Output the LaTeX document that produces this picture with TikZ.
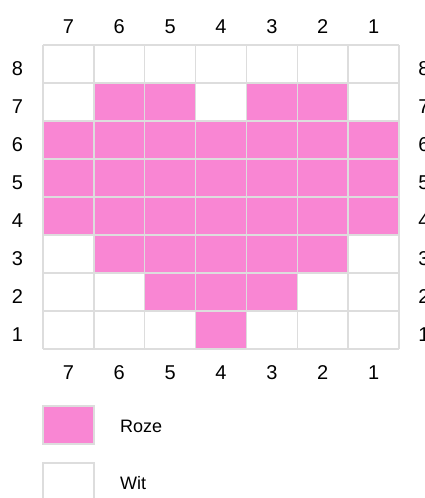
\documentclass[tikz,border=0pt]{standalone}
\usepackage{fontspec}
\setmainfont{Liberation Sans}
\definecolor{roze}{RGB}{249,134,211}
\definecolor{gridc}{RGB}{221,221,221}
\begin{document}
\begin{tikzpicture}[x=1pt,y=-1pt,
  gridline/.style={draw=gridc,line width=1.3pt},
  lab/.style={font=\fontsize{20}{24}\selectfont,anchor=base,inner sep=0pt},
  legtext/.style={font=\fontsize{18}{22}\selectfont,anchor=base west,inner sep=0pt}]
\useasboundingbox (0,0) rectangle (425,498);
\pgfmathsetmacro\cw{356/7}
\def\ch{38}
% pink cells
\foreach \L/\cols in {7/{2,3,5,6},6/{1,2,3,4,5,6,7},5/{1,2,3,4,5,6,7},4/{1,2,3,4,5,6,7},3/{2,3,4,5,6},2/{3,4,5},1/{4}}{
  \foreach \p in \cols{
    \fill[roze] ({43+(\p-1)*\cw},{45+(8-\L)*\ch}) rectangle ++(\cw,\ch);
  }
}
% grid lines
\foreach \i in {0,...,7}{
  \draw[gridline] ({43+\i*\cw},45) -- ({43+\i*\cw},349);
}
\foreach \j in {0,...,8}{
  \draw[gridline] (43,{45+\j*\ch}) -- (399,{45+\j*\ch});
}
% column labels
\foreach \p in {1,...,7}{
  \pgfmathtruncatemacro\n{8-\p}
  \node[lab] (top\n) at ({43+(\p-0.5)*\cw},33) {\n};
  \node[lab] (bot\n) at ({43+(\p-0.5)*\cw},379) {\n};
}
% row labels
\foreach \L in {1,...,8}{
  \node[lab] (left\L) at (17.5,{45+(8-\L+0.5)*\ch+11.5}) {\L};
  \node[lab] (right\L) at (424,{45+(8-\L+0.5)*\ch+11.5}) {\L};
}
% legend
\filldraw[fill=roze,gridline] (43,406) rectangle (94,444);
\draw[gridline,fill=white] (43,463) rectangle (94,501);
\node[legtext] (roze) at (120,432) {Roze};
\node[legtext] (wit) at (120,489) {Wit};
\end{tikzpicture}
\end{document}
